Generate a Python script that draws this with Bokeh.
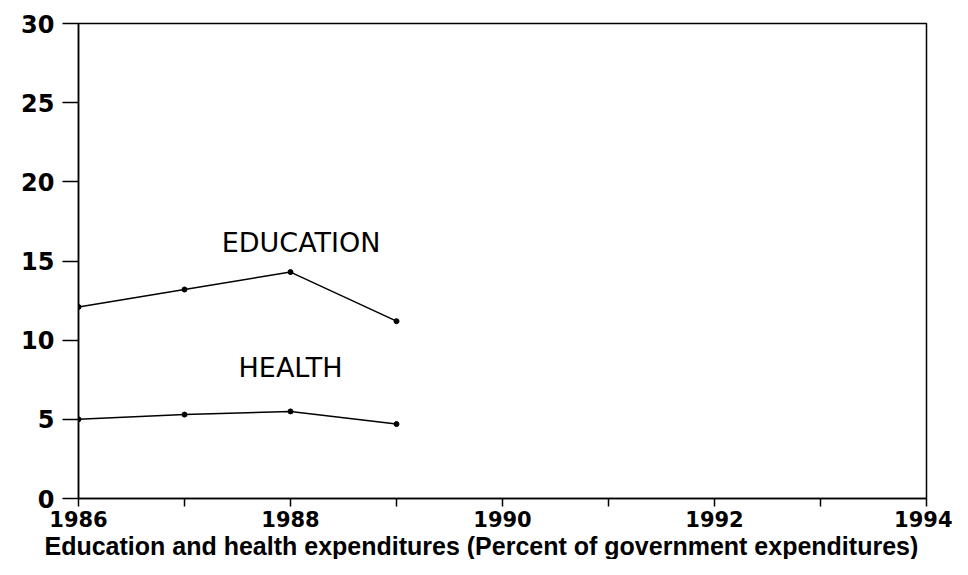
from bokeh.plotting import figure
from bokeh.models import FixedTicker, Title, Range1d, Label
from bokeh.embed import file_html
from bokeh.resources import INLINE

years = [1986, 1987, 1988, 1989]
education = [12.1, 13.2, 14.3, 11.2]
health = [5.0, 5.3, 5.5, 4.7]
x_ticks = [1986, 1987, 1988, 1989, 1990, 1991, 1992, 1993, 1994]
x_labels = {1987: "", 1989: "", 1991: "", 1993: ""}
y_ticks = [0, 5, 10, 15, 20, 25, 30]
title_text = "Education and health expenditures (Percent of government expenditures)"

p = figure(width=952, height=559, output_backend="svg", toolbar_location=None,
           x_range=Range1d(1986, 1994), y_range=Range1d(0, 30),
           min_border_left=78, min_border_right=26, min_border_top=23, min_border_bottom=0)
p.xgrid.visible = False
p.ygrid.visible = False
p.outline_line_color = "black"
p.outline_line_width = 1.5
p.background_fill_color = "white"
p.border_fill_color = "white"

for ax in (p.xaxis[0], p.yaxis[0]):
    ax.axis_line_color = "black"
    ax.axis_line_width = 1.5
    ax.major_tick_line_color = "black"
    ax.major_tick_line_width = 1.5
    ax.minor_tick_line_color = None
    ax.major_tick_in = 0
    ax.major_label_text_font = "DejaVu Sans"
    ax.major_label_text_font_style = "bold"
    ax.major_label_text_color = "black"

p.xaxis.ticker = FixedTicker(ticks=x_ticks)
p.xaxis.major_label_overrides = x_labels
p.xaxis.major_tick_out = 8
p.xaxis.major_label_standoff = 4
p.xaxis.major_label_text_font_size = "21px"
p.yaxis.ticker = FixedTicker(ticks=y_ticks)
p.yaxis.major_tick_out = 16
p.yaxis.major_label_standoff = 8
p.yaxis.major_label_text_font_size = "24px"

p.line(years, education, line_color="black", line_width=1.5)
p.scatter(years, education, size=5, color="black")
p.line(years, health, line_color="black", line_width=1.5)
p.scatter(years, health, size=5, color="black")

p.add_layout(Label(x=1988.1, y=16.2, text="EDUCATION", text_align="center", text_baseline="middle",
                   text_font="DejaVu Sans", text_font_size="27px", text_color="black"))
p.add_layout(Label(x=1988.0, y=8.3, text="HEALTH", text_align="center", text_baseline="middle",
                   text_font="DejaVu Sans", text_font_size="27px", text_color="black"))

p.add_layout(Title(text=title_text, align="left", text_font="Liberation Sans",
                   text_font_style="bold", text_font_size="25px", text_color="black",
                   standoff=0, offset=-34), "below")

open("out.html", "w").write(file_html(p, INLINE))
